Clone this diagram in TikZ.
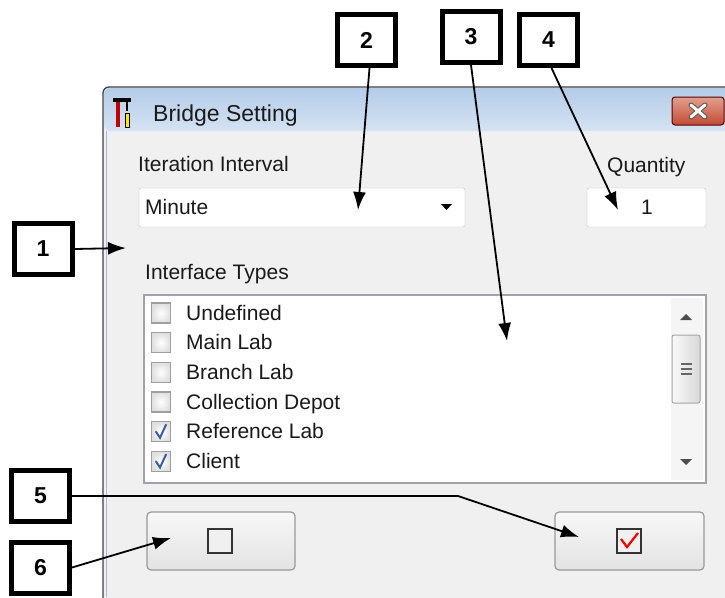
\documentclass[tikz,border=0pt]{standalone}
\usepackage{fontspec}
\setmainfont{Liberation Sans}
\usepackage{tikz}
\usetikzlibrary{calc,arrows.meta,shadings}

\definecolor{winbg}{HTML}{F0F0F0}
\definecolor{titletop}{HTML}{B4CCE8}
\definecolor{titlebot}{HTML}{D5E3F3}
\definecolor{uitext}{HTML}{1A1A1A}
\definecolor{boxline}{HTML}{A0A4AA}
\definecolor{checkblue}{HTML}{3C5AA8}
\definecolor{closetop}{HTML}{E3A08F}
\definecolor{closebot}{HTML}{C24A33}

\tikzset{
  numbox/.style={draw=black,line width=5pt,fill=white,minimum width=58pt,minimum height=51pt,
    inner sep=0pt,font=\bfseries\fontsize{23}{23}\selectfont},
  ptr/.style={-{Latex[length=18pt,width=13pt]},line width=1.8pt,black},
  uilabel/.style={anchor=base west,inner sep=0pt,text=uitext,font=\fontsize{21}{21}\selectfont},
  chkbox/.style={draw=gray!75,line width=1.3pt,inner color=white,outer color=gray!25,
    minimum width=19pt,minimum height=20pt,inner sep=0pt},
  winbutton/.style={draw=gray!80,line width=1.2pt,rounded corners=4pt,top color=gray!6,bottom color=gray!22},
}

\begin{document}
\begin{tikzpicture}[x=1pt,y=-1pt]
  \useasboundingbox (0,0) rectangle (725,597);
  % window
  \fill[winbg,rounded corners=6pt] (103,87) rectangle (760,640);
  \shade[top color=titletop,bottom color=titlebot,rounded corners=6pt] (104,88) rectangle (760,131);
  \draw[black!75,line width=1.3pt,rounded corners=6pt] (103,640) -- (103,87) -- (760,87);
  \draw[titlebot!80!blue,line width=1pt] (106,131) -- (106,597);
  % icon
  \fill[red!75!black] (116,100) rectangle (120,127);
  \fill[yellow!90!orange] (125,113) rectangle (129,127);
  \draw[black,line width=0.6pt] (125,113) rectangle (129,127);
  \fill[black] (113,98) rectangle (131,102);
  \fill[black] (126,102) rectangle (128,111);
  \node[uilabel,font=\fontsize{23}{23}\selectfont] (title) at (153,121) {Bridge Setting};
  % close button
  \shade[top color=closetop,bottom color=closebot,rounded corners=3pt,draw=red!35!black,line width=1pt]
    (672,97) rectangle (724,125);
  \draw[gray!70!black,line width=5pt,line cap=round] (691,105) -- (705,117) (691,117) -- (705,105);
  \draw[white,line width=3pt,line cap=round] (691,105) -- (705,117) (691,117) -- (705,105);
  % interval and quantity
  \node[uilabel] (interval) at (138,171) {Iteration Interval};
  \node[uilabel] (quantity) at (607,172) {Quantity};
  \draw[boxline!70,fill=white,rounded corners=2pt] (139,188) rectangle (465,227);
  \node[uilabel] (minute) at (145,214) {Minute};
  \fill[black] (441,204) -- (452,204) -- (446.5,210) -- cycle;
  \draw[boxline!70,fill=white,rounded corners=2pt] (587,188) rectangle (706,227);
  \node[uilabel,anchor=base] (qty) at (647,214) {1};
  % interface types
  \node[uilabel] (types) at (145,279) {Interface Types};
  \draw[boxline,fill=white,line width=1.2pt] (144,295) rectangle (706,483);
  \fill[gray!8] (671,298) rectangle (703,480);
  \fill[black!70] (680,320) -- (692,320) -- (686,314) -- cycle;
  \fill[black!70] (680,459) -- (692,459) -- (686,465) -- cycle;
  \shade[left color=gray!5,right color=gray!30,draw=gray!70,line width=1pt,rounded corners=2pt]
    (672,335) rectangle (700,403);
  \foreach \y in {364,369,374}
    \draw[black!60,line width=1.3pt] (681,\y) -- (692,\y);
  \foreach \lbl/\chk [count=\i] in {Undefined/0,Main Lab/0,Branch Lab/0,Collection Depot/0,Reference Lab/1,Client/1}{
    \node[chkbox] (c\i) at (161,{313+29.7*(\i-1)}) {};
    \node[uilabel] (t\i) at (186,{320+29.7*(\i-1)}) {\lbl};
    \ifnum\chk=1
      \draw[checkblue,line width=2pt,line cap=round] ($(c\i)+(-5,0)$) -- ($(c\i)+(-1,6)$) -- ($(c\i)+(5,-7)$);
    \fi
  }
  % buttons
  \draw[winbutton] (147,512) rectangle (295,570);
  \draw[winbutton] (555,512) rectangle (704,570);
  \draw[black!80,line width=1.5pt,fill=winbg] (208,529) rectangle (232,553);
  \draw[black!80,line width=1.5pt,fill=winbg] (617,529) rectangle (641,553);
  \draw[red,line width=2.2pt] (621,539) -- (627,547) -- (638,533);
  % callouts
  \node[numbox] (n1) at (43,249) {1};
  \node[numbox] (n2) at (366.5,40) {2};
  \node[numbox] (n3) at (471,37) {3};
  \node[numbox] (n4) at (548.5,40) {4};
  \node[numbox] (n5) at (40.5,496) {5};
  \node[numbox] (n6) at (40.5,567.5) {6};
  \coordinate (p1) at (126,248);
  \coordinate (p2) at (358,210);
  \coordinate (p3) at (507,341);
  \coordinate (p4) at (618,210);
  \coordinate (k5) at (458,492);
  \coordinate (p5) at (579,537);
  \coordinate (p6) at (171,538);
  \draw[ptr] (n1.east) -- (p1);
  \draw[ptr] ($(n2.south)+(3,0)$) -- (p2);
  \draw[ptr] (n3.south) -- (p3);
  \draw[ptr] ($(n4.south)+(3,0)$) -- (p4);
  \draw[ptr] (n5.east) -- (n5.east -| k5) -- (p5);
  \draw[ptr] (n6.east) -- (p6);
\end{tikzpicture}
\end{document}
